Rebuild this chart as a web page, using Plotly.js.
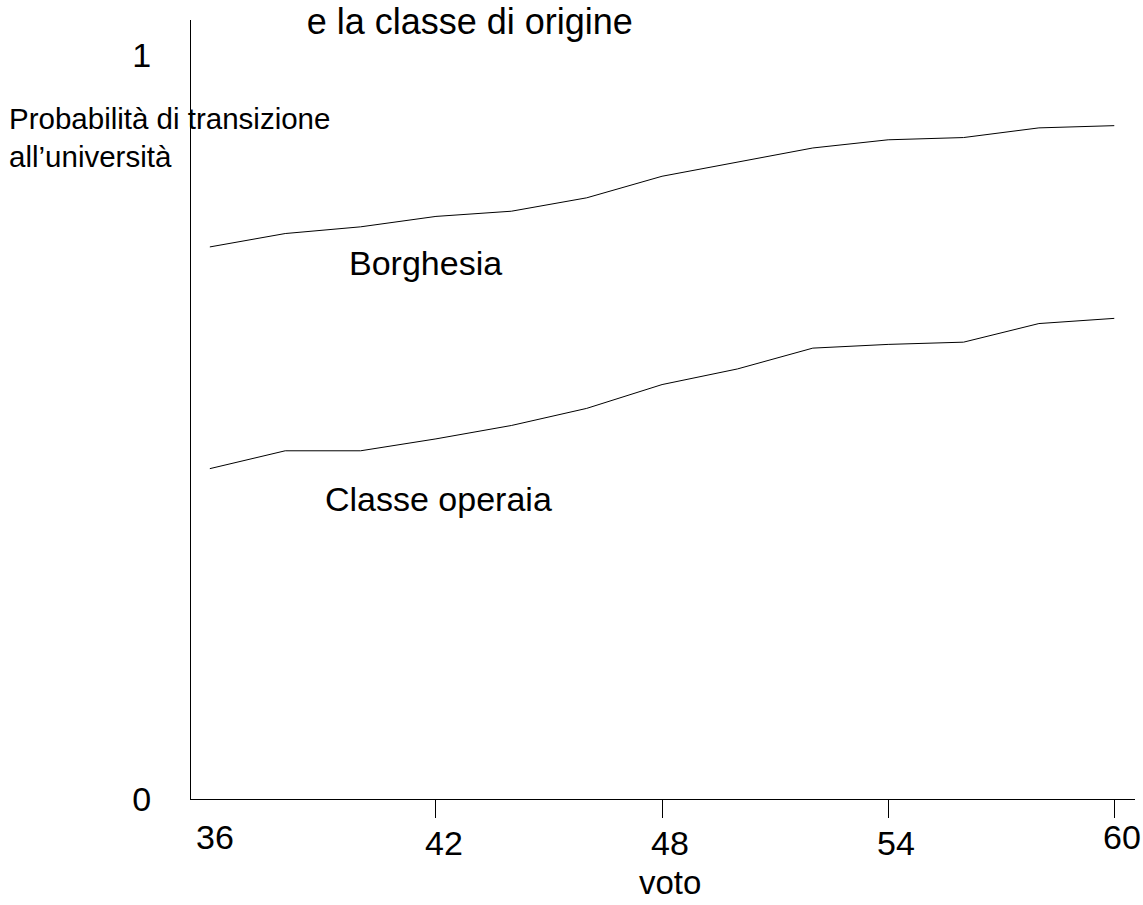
<!DOCTYPE html>
<html><head><meta charset="utf-8">
<script src="https://cdn.plot.ly/plotly-3.0.1.min.js"></script>
<style>html,body{margin:0;padding:0;background:#fff}</style>
</head><body>
<div id="chart" style="width:1143px;height:905px"></div>
<script>
const voto = [36, 38, 40, 42, 44, 46, 48, 50, 52, 54, 56, 58, 60];
const borghesia = [0.742, 0.760, 0.769, 0.783, 0.790, 0.808, 0.837, 0.856, 0.875, 0.886, 0.889, 0.902, 0.905];
const classeOperaia = [0.444, 0.468, 0.468, 0.484, 0.502, 0.525, 0.557, 0.578, 0.606, 0.611, 0.614, 0.639, 0.646];
const xTickVals = [36, 42, 48, 54, 60];
const xTickText = ['36', '42', '48', '54', '60'];
const xTickLow = [false, true, true, true, false];
const yTickVals = [0, 1];
const yTickText = ['0', '1'];

const F = 'Liberation Sans, Arial, sans-serif';
const traces = [
  {x: voto, y: borghesia, mode: 'lines', name: 'Borghesia', line: {color: '#000', width: 1}},
  {x: voto, y: classeOperaia, mode: 'lines', name: 'Classe operaia', line: {color: '#000', width: 1}}
];

const annotations = xTickVals.map((v, i) => ({
  x: v, xref: 'x', y: 0, yref: 'paper', text: xTickText[i], showarrow: false,
  xanchor: 'center', yanchor: 'middle', xshift: i === 0 ? 5 : 8, yshift: xTickLow[i] ? -44 : -38,
  font: {family: F, size: 34, color: '#000'}
}));
annotations.push(
  {x: 0.2487, y: 0.6885, xref: 'paper', yref: 'paper', text: 'Borghesia', showarrow: false,
   xanchor: 'center', yanchor: 'middle', font: {family: F, size: 34, color: '#000'}},
  {x: 0.2624, y: 0.3848, xref: 'paper', yref: 'paper', text: 'Classe operaia', showarrow: false,
   xanchor: 'center', yanchor: 'middle', font: {family: F, size: 34, color: '#000'}},
  {x: -0.1947, y: 0.849, xref: 'paper', yref: 'paper', text: 'Probabilità di transizione<br>all’università',
   showarrow: false, xanchor: 'left', yanchor: 'middle', align: 'left', font: {family: F, size: 29.5, color: '#000'}},
  {x: 0.5, y: 0, xref: 'paper', yref: 'paper', text: 'voto', showarrow: false, xanchor: 'center',
   yanchor: 'middle', yshift: -83, xshift: 7, font: {family: F, size: 33, color: '#000'}}
);

const layout = {
  width: 1143, height: 905,
  margin: {l: 191, r: 8, t: 20, b: 106},
  paper_bgcolor: '#fff', plot_bgcolor: '#fff',
  showlegend: false,
  title: {text: 'e la classe di origine', x: 0.411, xanchor: 'center', y: 0.976, yanchor: 'middle',
          font: {family: F, size: 36, color: '#000'}},
  xaxis: {range: [35.5, 60.55], showgrid: false, zeroline: false, showline: true, linecolor: '#000', linewidth: 1,
          tickmode: 'array', tickvals: [42, 48, 54, 60], ticks: 'outside', ticklen: 18, tickcolor: '#000', tickwidth: 1,
          showticklabels: false, fixedrange: true},
  yaxis: {range: [0, 1.047], showgrid: false, zeroline: false, showline: true, linecolor: '#000', linewidth: 1,
          tickmode: 'array', tickvals: yTickVals, ticktext: yTickText, ticks: '', ticklabelstandoff: 32,
          tickfont: {family: F, size: 34, color: '#000'}, fixedrange: true},
  annotations: annotations
};
Plotly.newPlot('chart', traces, layout, {displayModeBar: false, staticPlot: true});
</script>
</body></html>
